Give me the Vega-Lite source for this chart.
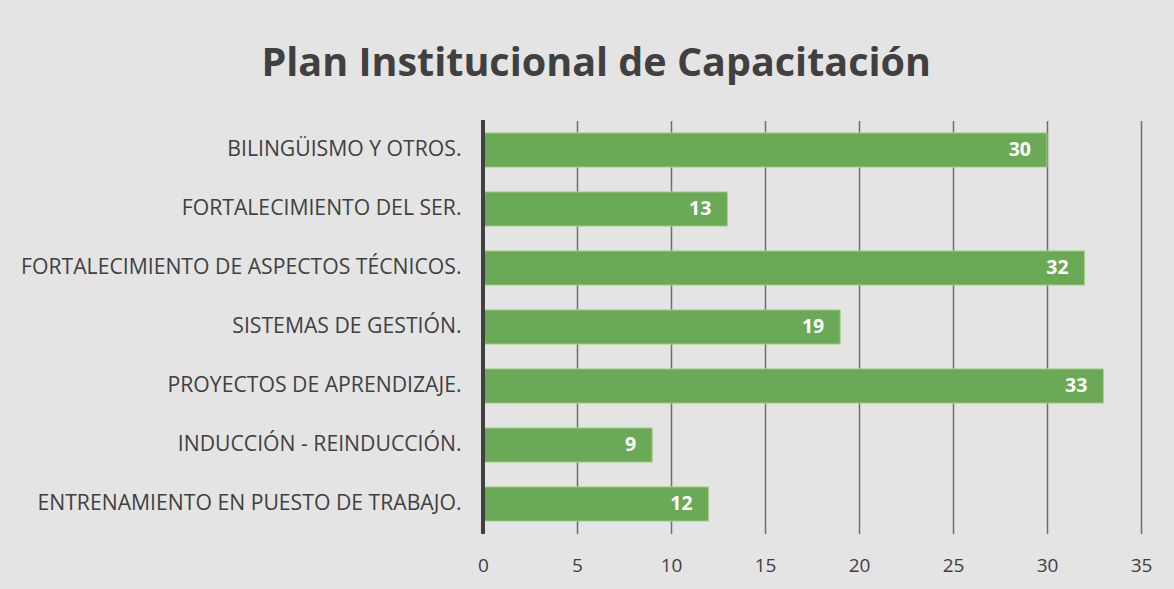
{
  "$schema": "https://vega.github.io/schema/vega-lite/v6.json",
  "width": 658,
  "height": 413,
  "autosize": {"type": "none"},
  "padding": {"left": 483, "top": 120.5, "right": 33, "bottom": 55.5},
  "background": "#e4e4e4",
  "title": {
    "text": "Plan Institucional de Capacitación",
    "font": "Open Sans",
    "fontSize": 39.5,
    "fontWeight": "bold",
    "color": "#404040",
    "anchor": "middle",
    "frame": "bounds",
    "baseline": "alphabetic",
    "offset": 4,
    "dx": 10
  },
  "data": {
    "values": [
      {"tema": "BILINGÜISMO Y OTROS.", "valor": 30},
      {"tema": "FORTALECIMIENTO DEL SER.", "valor": 13},
      {"tema": "FORTALECIMIENTO DE ASPECTOS TÉCNICOS.", "valor": 32},
      {"tema": "SISTEMAS DE GESTIÓN.", "valor": 19},
      {"tema": "PROYECTOS DE APRENDIZAJE.", "valor": 33},
      {"tema": "INDUCCIÓN - REINDUCCIÓN.", "valor": 9},
      {"tema": "ENTRENAMIENTO EN PUESTO DE TRABAJO.", "valor": 12}
    ]
  },
  "config": {
    "view": {"stroke": null},
    "font": "Open Sans"
  },
  "encoding": {
    "y": {
      "field": "tema",
      "type": "nominal",
      "sort": null,
      "title": null,
      "scale": {"paddingInner": 0.42, "paddingOuter": 0.21},
      "axis": {
        "ticks": false,
        "domain": false,
        "labelFont": "Open Sans",
        "labelFontSize": 21.2,
        "labelColor": "#404040",
        "labelPadding": 22,
        "labelLimit": 600
      }
    },
    "x": {
      "field": "valor",
      "type": "quantitative",
      "title": null,
      "scale": {"domain": [0, 35], "nice": false},
      "axis": {
        "values": [0, 5, 10, 15, 20, 25, 30, 35],
        "ticks": false,
        "domain": false,
        "grid": true,
        "gridColor": "#6e6e6e",
        "gridWidth": 1.5,
        "labelFlush": false,
        "labelFont": "Open Sans",
        "labelFontSize": 19,
        "labelColor": "#404040",
        "labelPadding": 23
      }
    }
  },
  "layer": [
    {
      "mark": {"type": "bar", "color": "#6aa955", "stroke": "#a9d18e", "strokeWidth": 1}
    },
    {
      "mark": {"type": "rule", "color": "#404040", "strokeWidth": 3},
      "encoding": {
        "x": {"datum": 0},
        "y": null
      }
    },
    {
      "mark": {"type": "text", "align": "right", "dx": -16, "color": "white", "fontWeight": "bold", "fontSize": 19.5, "font": "Open Sans"},
      "encoding": {"text": {"field": "valor", "type": "quantitative"}}
    }
  ]
}
